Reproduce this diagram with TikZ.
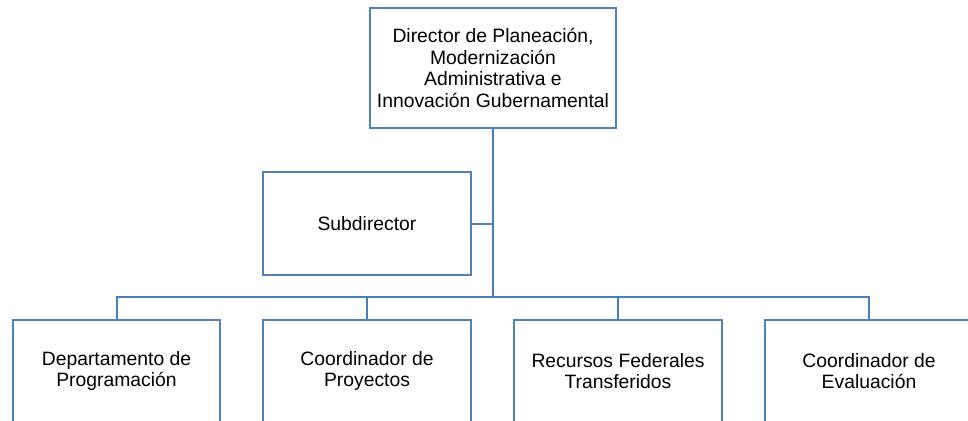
\documentclass[tikz,border=0pt]{standalone}
\usepackage{fontspec}
\setmainfont{Liberation Sans}
\definecolor{boxblue}{HTML}{4F81BD}
\definecolor{lineblue}{HTML}{4A7EBB}
\begin{document}
\begin{tikzpicture}[x=0.75pt,y=-0.75pt,
  orgbox/.style={draw=boxblue,line width=1.5pt,fill=white,align=center,inner sep=0pt,
    font=\fontsize{14.5}{16.3}\selectfont},
  conn/.style={draw=lineblue,line width=1.5pt}]
\useasboundingbox (0,0) rectangle (968,421);
\clip (0,0) rectangle (968,421);
\fill[white] (0,0) rectangle (968,421);
\node[orgbox,minimum width=184.5pt,minimum height=90pt] (dir) at (493,68)
  {Director de Planeación,\\Modernización\\Administrativa e\\Innovación Gubernamental};
\node[orgbox,minimum width=156pt,minimum height=77.25pt] (sub) at (367,223.5) {Subdirector};
\node[orgbox,minimum width=155.25pt,minimum height=77.25pt] (b1) at (116.5,371) {Departamento de\\Programación};
\node[orgbox,minimum width=156pt,minimum height=77.25pt] (b2) at (367,371) {Coordinador de\\Proyectos};
\node[orgbox,minimum width=156pt,minimum height=77.25pt] (b3) at (618,371) {Recursos Federales\\Transferidos};
\node[orgbox,minimum width=156pt,minimum height=77.25pt] (b4) at (869,371) {Coordinador de\\Evaluación};
\coordinate (bus) at (493,297);
\coordinate (subj) at (493,223.5);
\draw[conn] (dir.south) -- (bus);
\draw[conn] (sub.east) -- (subj);
\draw[conn] (b1.north) |- (bus);
\draw[conn] (b2.north) |- (bus);
\draw[conn] (b3.north) |- (bus);
\draw[conn] (b4.north) |- (bus);
\end{tikzpicture}
\end{document}
